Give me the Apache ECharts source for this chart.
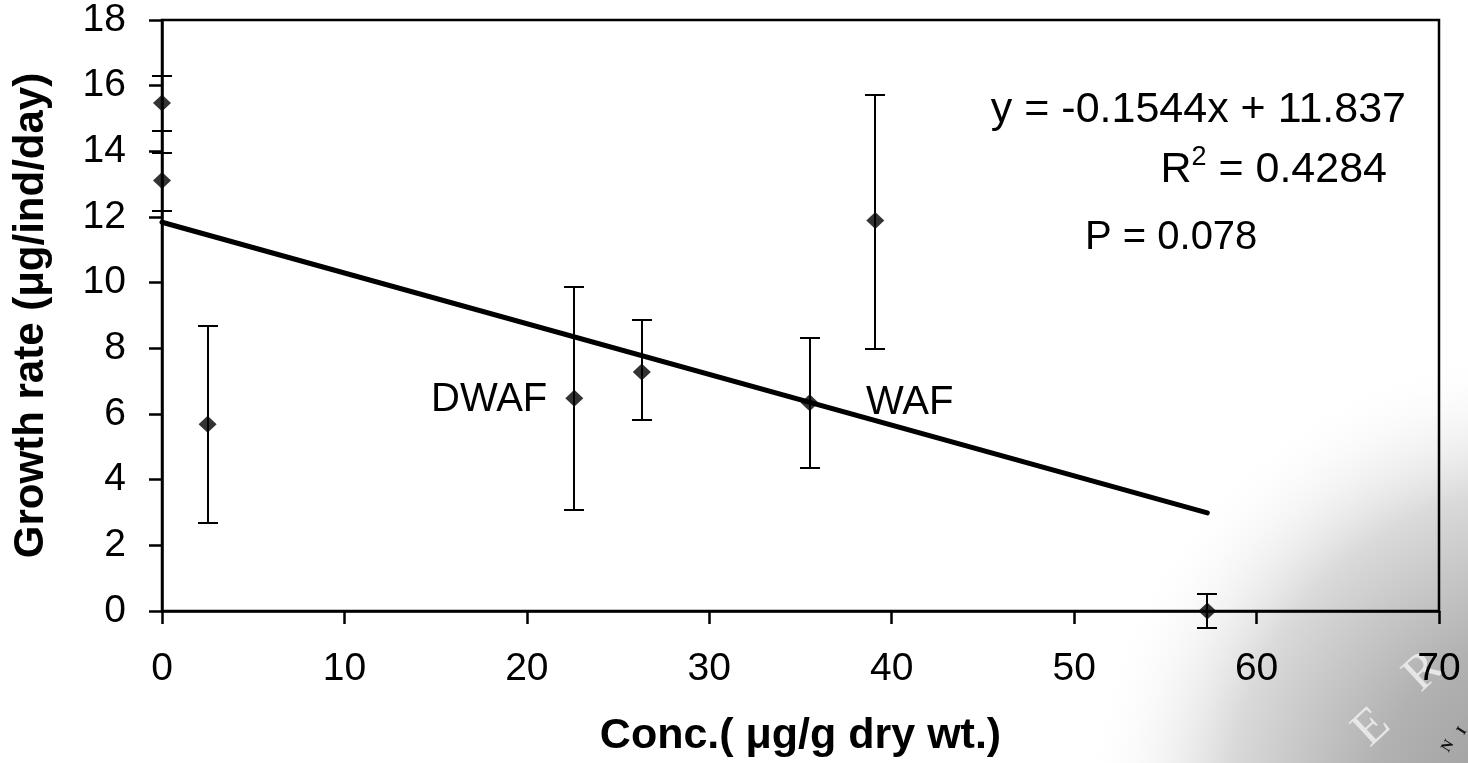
<!DOCTYPE html>
<html>
<head>
<meta charset="utf-8">
<script src="https://cdn.jsdelivr.net/npm/echarts@6/dist/echarts.min.js"></script>
<style>
html,body{margin:0;padding:0;background:#fff;}
#chart{width:1468px;height:763px;}
</style>
</head>
<body>
<div id="chart"></div>
<script>
// ---- data ----
var conc      = [0, 0, 2.5, 22.6, 26.3, 35.5, 39.1, 57.3];
var growth    = [15.47, 13.11, 5.69, 6.48, 7.28, 6.34, 11.89, 0.0];
var errHigh   = [16.28, 13.96, 8.67, 9.88, 8.85, 8.30, 15.72, 0.53];
var errLow    = [14.62, 12.19, 2.68, 3.08, 5.82, 4.35, 7.97, -0.52];
var trendX    = [0, 57.3];
var trendY    = [11.84, 2.99];
var xTicks    = {min: 0, max: 70, interval: 10};
var yTicks    = {min: 0, max: 18, interval: 2};

var FONT = '"Liberation Sans", Arial, sans-serif';

var points = conc.map(function (x, i) { return [x, growth[i]]; });
var bars = conc.map(function (x, i) { return [x, errLow[i], errHigh[i]]; });
var trend = trendX.map(function (x, i) { return [x, trendY[i]]; });

var chart = echarts.init(document.getElementById('chart'));
chart.setOption({
  backgroundColor: 'transparent',
  animation: false,
  grid: {left: 162, right: 29, top: 20, bottom: 151, show: true,
         borderColor: '#000', borderWidth: 2.5, backgroundColor: 'transparent'},
  graphic: [
    {type: 'circle', z: -10, silent: true, shape: {cx: 1560, cy: 820, r: 480},
     style: {fill: {type: 'radial', x: 0.5, y: 0.5, r: 0.5,
       colorStops: [{offset: 0, color: '#959595'}, {offset: 0.4, color: '#b2b2b2'},
                    {offset: 0.7, color: '#dadada'}, {offset: 1, color: 'rgba(255,255,255,0)'}]}}},
    {type: 'text', z: -5, silent: true, x: 1372, y: 728, rotation: 0.75,
     style: {text: 'E', font: '50px "Liberation Serif", serif', fill: 'rgba(238,238,238,0.85)', align: 'center', verticalAlign: 'middle'}},
    {type: 'text', z: -5, silent: true, x: 1424, y: 672, rotation: 0.75,
     style: {text: 'R', font: '50px "Liberation Serif", serif', fill: 'rgba(238,238,238,0.85)', align: 'center', verticalAlign: 'middle'}},
    {type: 'text', z: -5, silent: true, x: 1448, y: 746, rotation: 1.0,
     style: {text: 'N', font: 'bold 15px "Liberation Serif", serif', fill: '#111', align: 'center', verticalAlign: 'middle'}},
    {type: 'text', z: -5, silent: true, x: 1462, y: 731, rotation: 1.0,
     style: {text: 'I', font: 'bold 15px "Liberation Serif", serif', fill: '#111', align: 'center', verticalAlign: 'middle'}},

    {type: 'text', z: 10, x: 1406, y: 110,
     style: {text: 'y = -0.1544x + 11.837', font: '43px ' + FONT, fill: '#000', align: 'right', verticalAlign: 'middle'}},
    {type: 'text', z: 10, x: 1387, y: 168,
     style: {text: '{n|R}{s|2}{n| = 0.4284}', align: 'right', verticalAlign: 'middle',
       rich: {n: {font: '43px ' + FONT, fill: '#000', verticalAlign: 'bottom'},
              s: {font: '27px ' + FONT, fill: '#000', verticalAlign: 'top', padding: [0, 0, 20, 0]}}}},
    {type: 'text', z: 10, x: 1085, y: 238,
     style: {text: 'P = 0.078', font: '40px ' + FONT, fill: '#000', align: 'left', verticalAlign: 'middle'}},
    {type: 'text', z: 10, x: 431, y: 400,
     style: {text: 'DWAF', font: '40px ' + FONT, fill: '#000', align: 'left', verticalAlign: 'middle'}},
    {type: 'text', z: 10, x: 866, y: 403,
     style: {text: 'WAF', font: '40px ' + FONT, fill: '#000', align: 'left', verticalAlign: 'middle'}}
  ],
  xAxis: {
    type: 'value', min: xTicks.min, max: xTicks.max, interval: xTicks.interval,
    name: 'Conc.( μg/g dry wt.)', nameLocation: 'middle', nameGap: 104,
    nameTextStyle: {fontFamily: FONT, fontWeight: 'bold', fontSize: 43, color: '#000'},
    axisLine: {show: true, onZero: false, lineStyle: {color: '#000', width: 2.5}},
    axisTick: {show: true, inside: false, length: 13, lineStyle: {color: '#000', width: 2.5}},
    axisLabel: {fontFamily: FONT, fontSize: 39, color: '#000', margin: 39},
    splitLine: {show: false}
  },
  yAxis: {
    type: 'value', min: yTicks.min, max: yTicks.max, interval: yTicks.interval,
    name: 'Growth rate (μg/ind/day)', nameLocation: 'middle', nameGap: 110,
    nameTextStyle: {fontFamily: FONT, fontWeight: 'bold', fontSize: 42, color: '#000'},
    axisLine: {show: true, onZero: false, lineStyle: {color: '#000', width: 2.5}},
    axisTick: {show: true, inside: false, length: 13, lineStyle: {color: '#000', width: 2.5}},
    axisLabel: {fontFamily: FONT, fontSize: 39, color: '#000', margin: 36},
    splitLine: {show: false}
  },
  series: [
    {
      type: 'line', data: trend, showSymbol: false, symbol: 'none', z: 3,
      lineStyle: {color: '#000', width: 5, cap: 'round'}
    },
    {
      type: 'custom', data: bars, clip: false, z: 4,
      renderItem: function (params, api) {
        var x = api.value(0);
        var lo = api.coord([x, api.value(1)]);
        var hi = api.coord([x, api.value(2)]);
        var px = Math.round(lo[0]);
        var yl = Math.round(lo[1]), yh = Math.round(hi[1]);
        var w = 10;
        var st = {stroke: '#000', lineWidth: 2};
        return {type: 'group', children: [
          {type: 'line', shape: {x1: px, y1: yl, x2: px, y2: yh}, style: st},
          {type: 'line', shape: {x1: px - w, y1: yl, x2: px + w, y2: yl}, style: st},
          {type: 'line', shape: {x1: px - w, y1: yh, x2: px + w, y2: yh}, style: st}
        ]};
      }
    },
    {
      type: 'scatter', data: points, symbol: 'diamond', symbolSize: [18, 17], z: 5,
      itemStyle: {color: '#000'}
    }
  ]
});
</script>
</body>
</html>
